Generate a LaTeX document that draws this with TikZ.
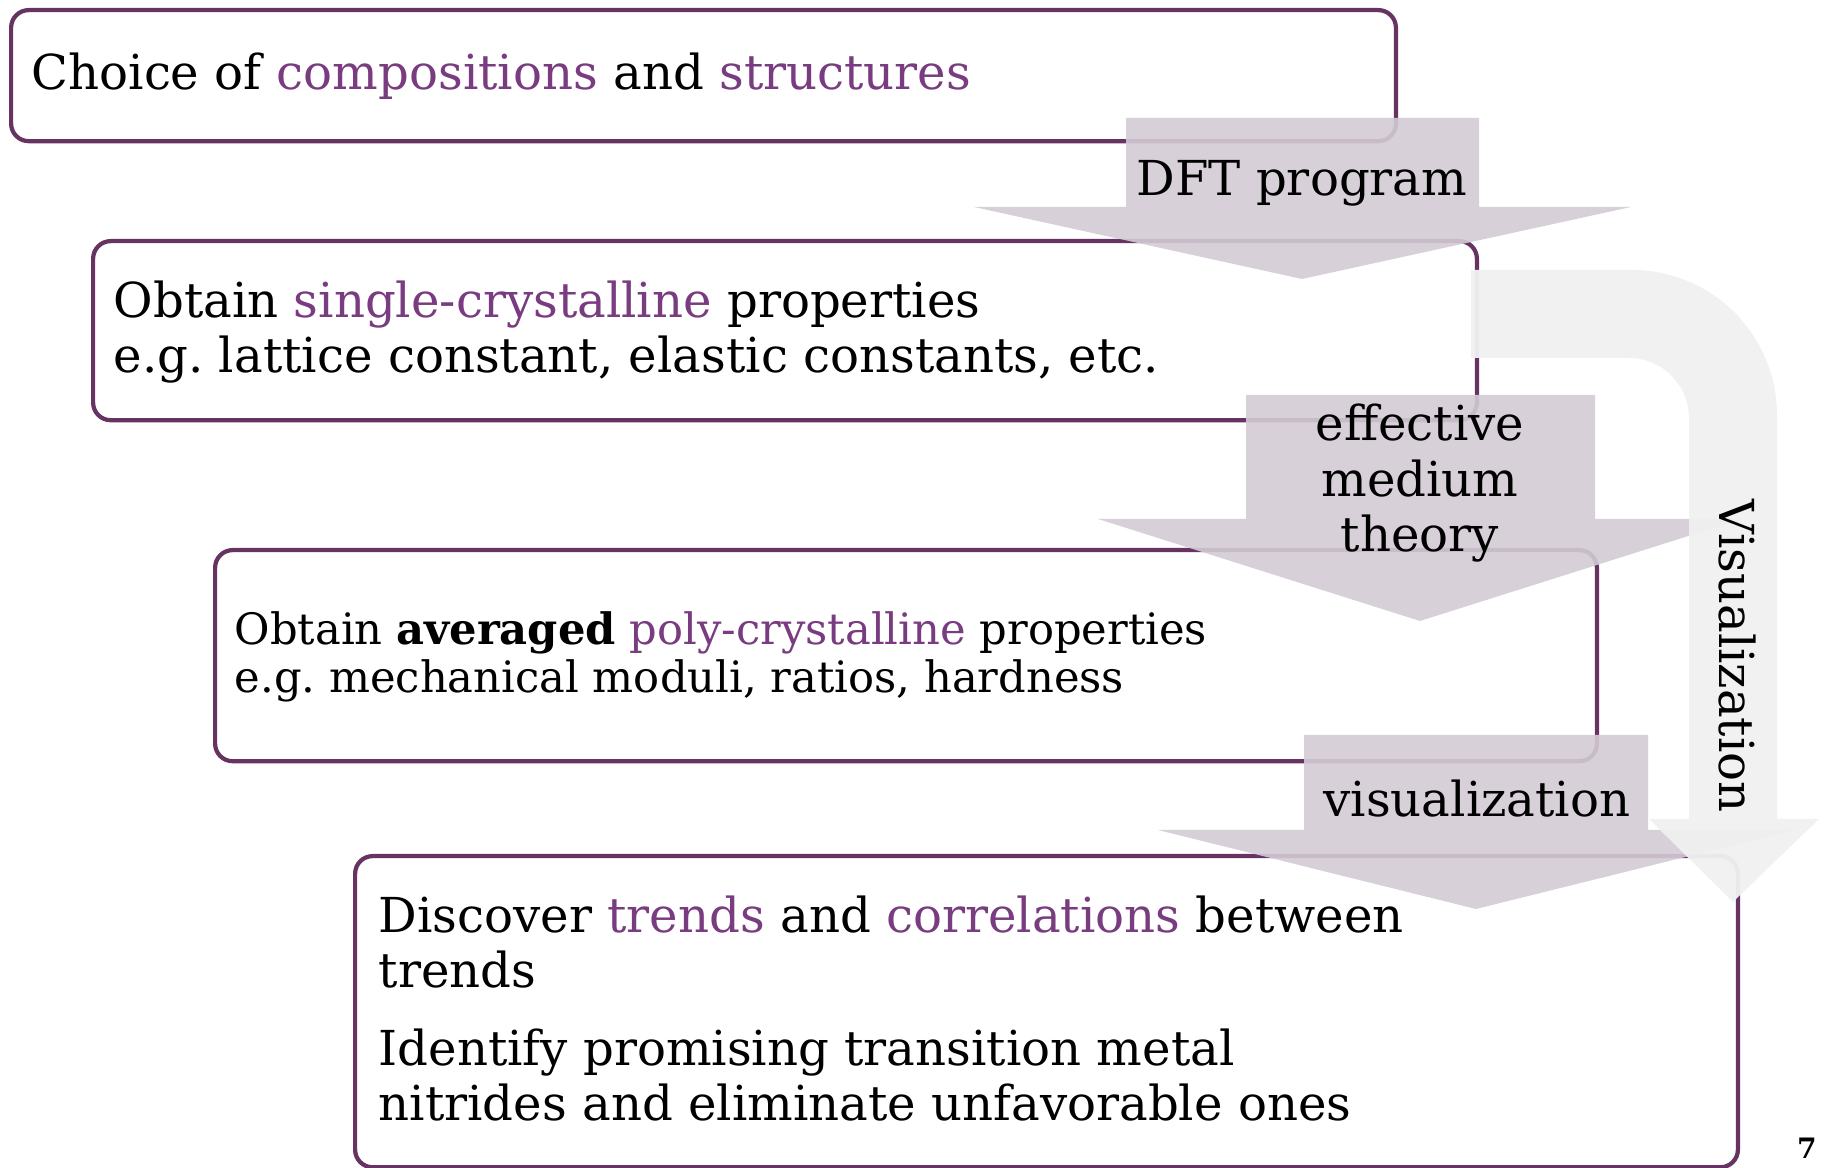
\documentclass[tikz,border=0pt]{standalone}
\usepackage{fontspec}
\setmainfont{DejaVu Serif}
\definecolor{boxline}{RGB}{102,51,99}
\definecolor{hl}{RGB}{122,60,128}
\definecolor{lav}{RGB}{211,203,213}
\definecolor{lightg}{RGB}{240,240,240}
\newcommand{\hlt}[1]{\textcolor{hl}{#1}}
\frenchspacing
\begin{document}
\frenchspacing
\begin{tikzpicture}[x=0.01cm,y=-0.01cm,
  stepbox/.style={draw=boxline, line width=1.2pt, rounded corners=5pt, anchor=north west, inner sep=0pt},
  lavarrow/.style={fill=lav, fill opacity=0.9, draw=none},
  lightarrow/.style={fill=lightg, fill opacity=0.96, draw=none},
  bigtxt/.style={anchor=base west, align=left, inner sep=0pt, font=\fontsize{13.7}{15.9}\selectfont},
  smalltxt/.style={anchor=base west, align=left, inner sep=0pt, font=\fontsize{12.3}{13.9}\selectfont},
  arrtxt/.style={anchor=base, align=center, inner sep=0pt, font=\fontsize{13.7}{15.9}\selectfont}]
\useasboundingbox (0,0) rectangle (1826,1168);
% boxes
\node[stepbox, minimum width=13.84cm, minimum height=1.31cm] (b1) at (9,8) {};
\node[stepbox, minimum width=13.83cm, minimum height=1.79cm] (b2) at (91,239) {};
\node[stepbox, minimum width=13.81cm, minimum height=2.11cm] (b3) at (213,548) {};
\node[stepbox, minimum width=13.82cm, minimum height=3.11cm] (b4) at (353,854) {};
% texts (base = baseline of the last line)
\node[bigtxt] (t1) at (31,90) {Choice of \hlt{compositions} and \hlt{structures}};
\node[bigtxt] (t2) at (113,373) {Obtain \hlt{single-crystalline} properties\\e.g. lattice constant, elastic constants, etc.};
\node[smalltxt] (t3) at (234,693) {Obtain \textbf{averaged} \hlt{poly-crystalline} properties\\e.g. mechanical moduli, ratios, hardness};
\node[bigtxt] (t4) at (378,988) {Discover \hlt{trends} and \hlt{correlations} between\\trends};
\node[bigtxt] (t5) at (378,1121) {Identify promising transition metal\\nitrides and eliminate unfavorable ones};
% lavender block arrows
\fill[lavarrow] (1126,118) -- (1479,118) -- (1479,207) -- (1631,207) -- (1302,279) -- (974,207) -- (1126,207) -- cycle;
\fill[lavarrow] (1246,395) -- (1595,395) -- (1595,519) -- (1742,519) -- (1420,621) -- (1098,519) -- (1246,519) -- cycle;
\fill[lavarrow] (1304,735) -- (1648,735) -- (1648,830) -- (1794,830) -- (1476,909) -- (1158,830) -- (1304,830) -- cycle;
% big light curved arrow
\fill[lightarrow] (1471,270) -- (1632,270) .. controls (1712,270) and (1777,335) .. (1777,415)
  -- (1777,819) -- (1819,819) -- (1733,902) -- (1649,819) -- (1689,819) -- (1689,418)
  .. controls (1689,385) and (1662,358) .. (1629,358) -- (1471,358) -- cycle;
% arrow labels
\node[arrtxt] (l1) at (1302,196) {DFT program};
\node[arrtxt] (l2) at (1420,552) {effective\\medium\\theory};
\node[arrtxt] (l3) at (1477,817) {visualization};
\node[inner sep=0pt, rotate=-90, font=\fontsize{13.7}{15.9}\selectfont] (l4) at (1737,656) {Visualization};
\node[inner sep=0pt, font=\fontsize{8}{9}\selectfont\bfseries] (pg) at (1807,1148) {7};
\end{tikzpicture}
\end{document}
